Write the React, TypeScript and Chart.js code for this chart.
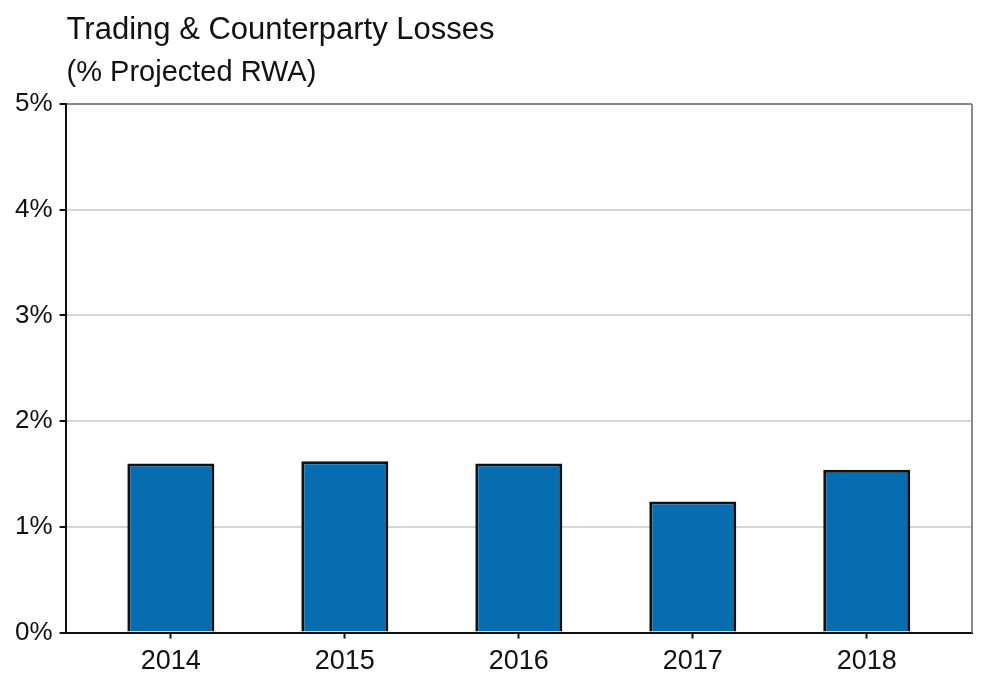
import React, { useEffect, useRef } from "react";
import { Chart, registerables } from "chart.js";

Chart.register(...registerables);

const years = [2014, 2015, 2016, 2017, 2018];
const losses = [1.6, 1.62, 1.6, 1.24, 1.54];
const yTickValues = [0, 1, 2, 3, 4, 5];
const titleText = "Trading & Counterparty Losses";
const subtitleText = "(% Projected RWA)";

const FONT = "'Liberation Sans', Arial, sans-serif";

const framePlugin = {
  id: "frame",
  afterDraw(chart: any) {
    const { ctx, chartArea } = chart;
    ctx.save();
    // right border
    ctx.strokeStyle = "#8a8a8a";
    ctx.lineWidth = 2;
    ctx.beginPath();
    ctx.moveTo(chartArea.right, chartArea.top);
    ctx.lineTo(chartArea.right, chartArea.bottom);
    ctx.stroke();
    // titles
    ctx.fillStyle = "#111";
    ctx.textAlign = "left";
    ctx.textBaseline = "alphabetic";
    ctx.font = `31px ${FONT}`;
    ctx.fillText(titleText, chartArea.left + 1, 39);
    ctx.font = `29px ${FONT}`;
    ctx.fillText(subtitleText, chartArea.left + 1, 81);
    ctx.restore();
  },
};

export default function App() {
  const ref = useRef<HTMLCanvasElement>(null);
  useEffect(() => {
    if (!ref.current) return;
    const chart = new Chart(ref.current, {
      type: "bar",
      data: {
        datasets: [
          {
            data: years.map((y, i) => ({ x: y, y: losses[i] })),
            backgroundColor: "#066db0",
            borderColor: "#111",
            borderWidth: 3,
            barPercentage: 0.5,
            categoryPercentage: 1,
          },
        ],
      },
      options: {
        animation: false,
        responsive: true,
        maintainAspectRatio: false,
        layout: { padding: { top: 104, left: 8, right: 18, bottom: 5 } },
        plugins: {
          legend: { display: false },
          title: { display: false },
          tooltip: { enabled: false },
        },
        scales: {
          x: {
            type: "linear",
            min: 2013.395,
            max: 2018.605,
            offset: false,
            afterBuildTicks: (scale: any) => {
              scale.ticks = years.map((v) => ({ value: v }));
            },
            ticks: {
              callback: (v: any) => String(v),
              color: "#111",
              font: { family: FONT, size: 27 },
              padding: 7,
              maxRotation: 0,
              autoSkip: false,
            },
            grid: {
              offset: false,
              drawOnChartArea: false,
              drawTicks: true,
              tickLength: 6,
              tickColor: "#111",
              tickWidth: 2,
            },
            border: { display: true, color: "#111", width: 2 },
          },
          y: {
            min: 0,
            max: 5,
            afterBuildTicks: (scale: any) => {
              scale.ticks = yTickValues.map((v) => ({ value: v }));
            },
            ticks: {
              callback: (v: any) => `${v}%`,
              color: "#111",
              font: { family: FONT, size: 26 },
              padding: 7,
            },
            grid: {
              color: (c: any) =>
                c.tick && c.tick.value === 5
                  ? "#8a8a8a"
                  : c.tick && c.tick.value === 0
                  ? "rgba(0,0,0,0)"
                  : "#d6d6d6",
              lineWidth: 2,
              tickColor: "#111",
              tickWidth: 2,
              tickLength: 6,
              drawTicks: true,
            },
            border: { display: true, color: "#111", width: 2 },
          },
        },
      },
      plugins: [framePlugin],
    });
    return () => chart.destroy();
  }, []);
  return (
    <div style={{ position: "fixed", left: 0, top: 0, width: 990, height: 690, background: "#fff" }}>
      <canvas ref={ref} />
    </div>
  );
}
